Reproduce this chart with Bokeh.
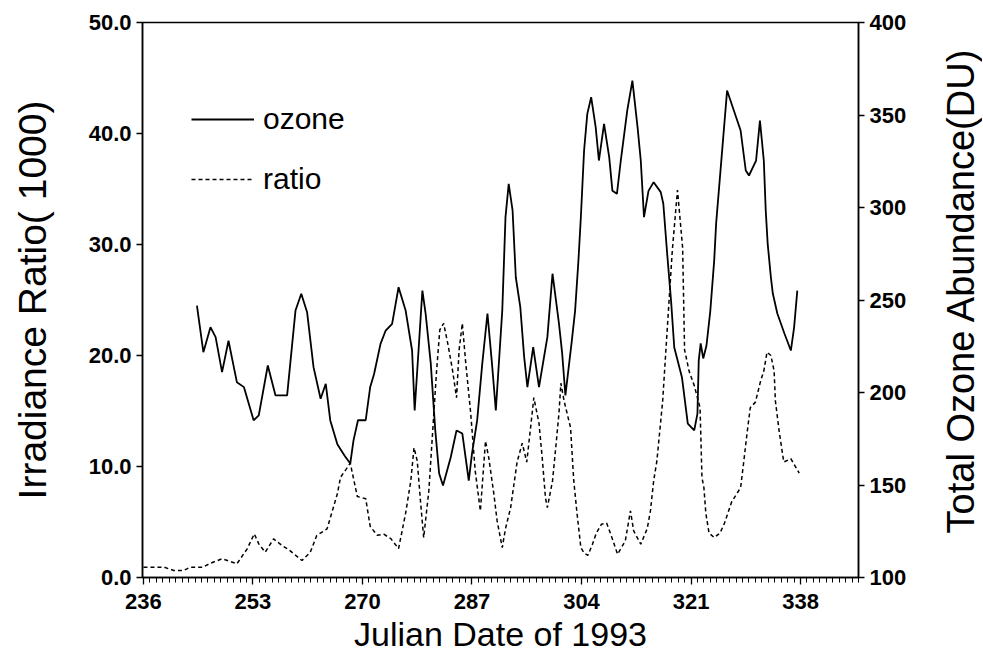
import math
from bokeh.plotting import figure
from bokeh.layouts import row
from bokeh.models import (Range1d, LinearAxis, FixedTicker, PrintfTickFormatter,
                          Legend, LegendItem, Label)
from bokeh.embed import file_html
from bokeh.resources import INLINE

# ---------------- data ----------------
x_ticks = [236, 253, 270, 287, 304, 321, 338]
left_ticks = [0, 10, 20, 30, 40, 50]
right_ticks = [100, 150, 200, 250, 300, 350, 400]

# Total ozone abundance (DU) vs Julian day
oz_day = [244.3, 245.3, 246.4, 247.2, 248.2, 249.2, 250.5, 251.6, 253.1, 253.9,
          255.3, 256.5, 258.3, 259.6, 260.5, 261.4, 262.4, 263.5, 264.3, 265.0,
          266.1, 267.2, 268.1, 268.6, 269.3, 270.5, 271.2, 271.8, 272.8, 273.6,
          274.6, 275.6, 276.7, 277.7, 278.1, 279.3, 279.8, 280.6, 281.3, 281.9,
          282.5, 283.7, 284.6, 285.5, 286.5, 287.0, 287.8, 288.6, 289.4, 290.1,
          290.7, 291.7, 292.2, 292.7, 293.3, 293.8, 294.5, 295.1, 295.6, 296.5,
          297.4, 298.7, 299.5, 300.5, 301.0, 301.5, 302.5, 303.0, 303.5, 303.9,
          304.4, 304.9, 305.5, 306.2, 306.7, 307.5, 308.3, 308.8, 309.5, 310.1,
          311.1, 311.9, 312.7, 313.2, 313.7, 314.4, 315.2, 316.3, 316.7, 317.3,
          317.9, 318.4, 319.6, 320.5, 321.5, 322.0, 322.2, 322.5, 322.9, 323.4,
          324.0, 324.6, 324.9, 326.6, 328.7, 329.5, 330.0, 331.1, 331.7, 332.3,
          332.6, 332.9, 333.4, 333.7, 334.4, 335.5, 336.5, 337.0, 337.5]
oz_du = [247.0, 221.8, 235.3, 229.9, 211.0, 228.0, 205.6, 202.9, 185.0, 187.6,
         214.6, 198.4, 198.4, 244.3, 253.4, 243.4, 213.7, 196.6, 204.7, 184.9,
         172.0, 166.0, 161.6, 174.0, 185.0, 185.0, 203.0, 210.0, 226.3, 233.5,
         237.1, 256.9, 244.3, 222.7, 190.3, 255.1, 242.7, 215.7, 179.5, 156.2,
         149.7, 165.0, 179.5, 177.8, 152.4, 167.0, 184.9, 215.7, 242.7, 215.7,
         190.3, 244.3, 294.8, 312.8, 298.4, 262.3, 246.1, 219.1, 202.9, 224.5,
         202.9, 229.9, 264.2, 237.3, 221.1, 198.4, 228.0, 244.0, 270.0, 294.8,
         330.8, 350.6, 359.6, 343.4, 325.4, 345.2, 327.2, 309.0, 307.4, 325.4,
         352.4, 368.6, 343.4, 325.4, 294.8, 309.0, 313.7, 308.3, 302.0, 275.0,
         249.7, 224.3, 208.1, 183.2, 179.5, 188.6, 217.3, 226.5, 218.4, 225.4,
         244.3, 271.4, 291.4, 363.2, 341.6, 320.0, 317.3, 325.4, 347.0, 325.4,
         298.4, 280.5, 262.2, 253.5, 242.7, 231.9, 222.7, 235.1, 255.1]

# Irradiance ratio (x1000) vs Julian day
ratio_day = [236.0, 239.2, 240.7, 242.2, 243.3, 245.2, 246.4, 248.2, 249.5, 250.5,
             252.1, 253.2, 253.9, 254.9, 256.2, 257.5, 258.6, 260.6, 261.9, 262.9,
             264.5, 266.1, 266.6, 267.4, 268.1, 269.2, 270.5, 271.2, 272.3, 273.3,
             274.4, 275.6, 276.7, 277.5, 278.0, 278.5, 279.0, 279.5, 280.3, 281.0,
             281.5, 282.0, 282.6, 283.3, 284.0, 284.6, 285.0, 285.5, 286.0, 286.8,
             287.5, 288.3, 289.1, 289.6, 290.4, 290.9, 291.7, 292.2, 293.0, 294.0,
             294.8, 295.5, 296.0, 296.6, 297.4, 297.9, 298.4, 298.7, 299.5, 300.0,
             300.5, 300.8, 301.3, 302.3, 302.8, 303.3, 303.9, 304.4, 305.0, 305.7,
             306.3, 307.1, 307.9, 308.6, 309.6, 310.8, 311.6, 312.1, 313.2, 314.2,
             314.7, 315.2, 315.7, 316.0, 316.6, 317.4, 318.1, 318.9, 319.7, 320.0,
             320.7, 321.5, 322.4, 322.7, 323.0, 323.3, 323.8, 324.6, 325.5, 326.2,
             327.3, 328.7, 329.2, 329.7, 330.2, 331.0, 331.8, 332.3, 332.8, 333.4,
             333.9, 334.1, 334.7, 335.4, 336.5, 337.8]
ratio_val = [0.93, 0.93, 0.63, 0.63, 0.93, 0.93, 1.29, 1.68, 1.44, 1.23,
             2.58, 3.93, 3.03, 2.28, 3.48, 2.88, 2.49, 1.53, 2.28, 3.78,
             4.38, 7.54, 9.04, 9.7, 10.3, 7.3, 7.1, 4.6, 3.8, 3.9,
             3.5, 2.6, 5.8, 8.7, 11.7, 10.5, 6.9, 3.6, 7.8, 14.1,
             18.6, 22.3, 22.9, 20.9, 18.6, 16.2, 20.5, 22.9, 19.5, 14.8,
             9.6, 6.0, 12.3, 10.8, 7.5, 5.1, 2.7, 4.4, 6.3, 10.4,
             12.1, 10.4, 13.0, 16.2, 13.9, 10.8, 7.2, 6.3, 8.7, 11.7,
             14.8, 17.5, 15.9, 13.5, 8.7, 5.8, 2.7, 2.2, 2.0, 3.0,
             4.0, 4.8, 4.9, 3.8, 2.1, 3.3, 6.0, 4.2, 3.0, 4.4,
             6.0, 8.7, 10.5, 12.3, 15.9, 23.2, 29.5, 34.9, 29.7, 20.5,
             18.6, 17.3, 15.3, 9.0, 8.1, 5.8, 4.0, 3.6, 4.0, 4.9,
             6.8, 8.1, 10.5, 13.0, 15.3, 15.8, 17.7, 18.6, 20.3, 20.0,
             18.6, 15.9, 13.1, 10.4, 10.7, 9.4]

right_title = "Total Ozone Abundance(DU)"

# ---------------- main figure ----------------
FONT = "Liberation Sans"
TOTAL_H = 653

p = figure(frame_width=716, frame_height=555,
           min_border_left=142, min_border_right=72,
           min_border_top=22, min_border_bottom=76,
           x_range=Range1d(235.85, 347.0), y_range=Range1d(0, 50),
           output_backend="svg", toolbar_location=None)
p.extra_y_ranges = {"oz": Range1d(100, 400)}
p.xgrid.visible = False
p.ygrid.visible = False
p.background_fill_color = "white"
p.border_fill_color = "white"
p.outline_line_color = "black"
p.outline_line_width = 1.5


def style_axis(ax, title, title_size, standoff):
    ax.axis_label = title
    ax.axis_label_text_font = FONT
    ax.axis_label_text_font_size = title_size
    ax.axis_label_text_font_style = "normal"
    ax.axis_label_text_color = "black"
    ax.axis_label_standoff = standoff
    ax.major_label_text_font = FONT
    ax.major_label_text_font_size = "22px"
    ax.major_label_text_font_style = "bold"
    ax.major_label_text_color = "black"
    ax.axis_line_color = "black"
    ax.axis_line_width = 1.5
    ax.major_tick_line_color = "black"
    ax.major_tick_line_width = 1.3
    ax.major_tick_in = 0
    ax.major_tick_out = 6


# bottom axis
xa = p.xaxis[0]
style_axis(xa, "Julian Date of 1993", "34px", 3)
xa.ticker = FixedTicker(ticks=x_ticks, minor_ticks=list(range(236, 348)))
xa.minor_tick_in = 0
xa.minor_tick_out = 5
xa.minor_tick_line_color = "black"
xa.minor_tick_line_width = 1.0
xa.major_tick_out = 7
xa.major_label_standoff = 9

# left axis
ya = p.yaxis[0]
style_axis(ya, "Irradiance Ratio( 1000)", "39px", 32)
ya.ticker = FixedTicker(ticks=left_ticks)
ya.formatter = PrintfTickFormatter(format="%.1f")
ya.minor_tick_line_color = None
ya.major_label_standoff = 5

# right axis (title drawn in the narrow strip to its right)
ra = LinearAxis(y_range_name="oz")
style_axis(ra, None, "38px", 10)
ra.ticker = FixedTicker(ticks=right_ticks)
ra.minor_tick_line_color = None
ra.major_label_standoff = 5
p.add_layout(ra, "right")

# lines
r_oz = p.line(oz_day, oz_du, y_range_name="oz", line_color="black", line_width=1.8)
r_ra = p.line(ratio_day, ratio_val, line_color="black", line_width=1.5, line_dash="4 3")

legend = Legend(items=[LegendItem(label="ozone", renderers=[r_oz]),
                       LegendItem(label="ratio", renderers=[r_ra])],
                location=(49, 381), orientation="vertical",
                padding=0, margin=0, spacing=26,
                glyph_width=63, glyph_height=34, label_height=34,
                label_standoff=9,
                label_text_font=FONT, label_text_font_size="30px",
                label_text_color="black",
                border_line_alpha=0, background_fill_alpha=0)
p.add_layout(legend)

# ---------------- narrow strip holding the right axis title ----------------
strip = figure(frame_width=52, frame_height=TOTAL_H,
               min_border_left=0, min_border_right=0,
               min_border_top=0, min_border_bottom=0,
               x_axis_type=None, y_axis_type=None,
               output_backend="svg", toolbar_location=None)
strip.grid.visible = False
strip.outline_line_color = None
strip.background_fill_color = "white"
strip.border_fill_color = "white"
strip.add_layout(Label(x=30, y=TOTAL_H - 268, x_units="screen", y_units="screen",
                       text=right_title, angle=math.pi / 2,
                       text_align="center", text_baseline="middle",
                       text_font=FONT, text_font_size="38px", text_color="black"))

layout = row(p, strip, spacing=0)
open("out.html", "w").write(file_html(layout, INLINE))
